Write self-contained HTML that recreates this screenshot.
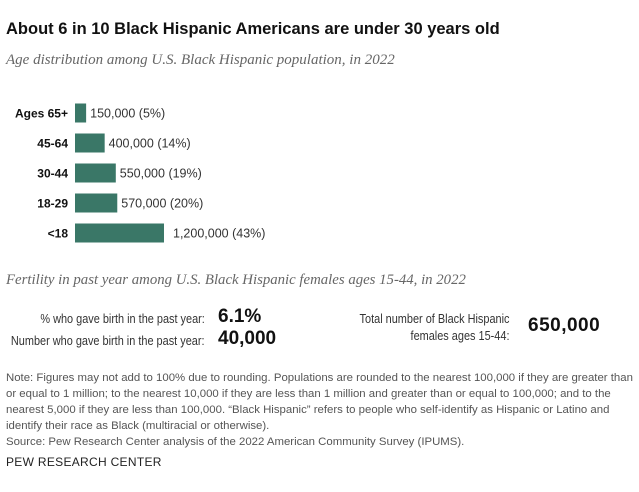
<!DOCTYPE html>
<html><head><meta charset="utf-8"><style>
body{margin:0;width:639px;height:492px;background:#fff;font-family:"Liberation Sans",sans-serif;color:#222;position:relative;overflow:hidden}
.a{position:absolute;white-space:nowrap}
.it{font-family:"Liberation Serif",serif;font-style:italic;color:#666;font-size:15px}
.cond{transform:scaleX(0.84);transform-origin:right center}
</style></head><body>
<div class="a" style="left:6px;top:20px;font-size:16.5px;font-weight:bold;color:#111">About 6 in 10 Black Hispanic Americans are under 30 years old</div>
<div class="a it" style="left:6px;top:52px">Age distribution among U.S. Black Hispanic population, in 2022</div>
<svg class="a" style="left:0;top:95px" width="639" height="160" id="chart"></svg>
<div class="a it" style="left:6px;top:272px;font-size:14.8px">Fertility in past year among U.S. Black Hispanic females ages 15-44, in 2022</div>
<div class="a cond" style="right:434px;top:311px;font-size:13px;color:#333">% who gave birth in the past year:</div>
<div class="a" style="left:218px;top:306px;font-size:19px;font-weight:bold;color:#111">6.1%</div>
<div class="a cond" style="right:434px;top:333px;font-size:13px;color:#333">Number who gave birth in the past year:</div>
<div class="a" style="left:218px;top:328px;font-size:19px;font-weight:bold;color:#111">40,000</div>
<div class="a cond" style="right:130px;top:310px;font-size:13px;color:#333;text-align:right;line-height:17px">Total number of Black Hispanic<br>females ages 15-44:</div>
<div class="a" style="left:528px;top:315px;font-size:19px;font-weight:bold;color:#111;letter-spacing:0.5px">650,000</div>
<div class="a" style="left:6px;top:370px;width:630px;white-space:normal;font-size:11.4px;line-height:16px;color:#555">Note: Figures may not add to 100% due to rounding. Populations are rounded to the nearest 100,000 if they are greater than or equal to 1 million; to the nearest 10,000 if they are less than 1 million and greater than or equal to 100,000; and to the nearest 5,000 if they are less than 100,000. “Black Hispanic” refers to people who self-identify as Hispanic or Latino and identify their race as Black (multiracial or otherwise).<br>Source: Pew Research Center analysis of the 2022 American Community Survey (IPUMS).</div>
<div class="a" style="left:6px;top:455px;font-size:12px;color:#222;letter-spacing:0.3px">PEW RESEARCH CENTER</div>
<script>
const categories=["Ages 65+","45-64","30-44","18-29","<18"];
const values=[150000,400000,550000,570000,1200000];
const labels=["150,000","400,000","550,000","570,000","1,200,000"];
const pcts=["(5%)","(14%)","(19%)","(20%)","(43%)"];
const svg=document.getElementById('chart');
const NS='http://www.w3.org/2000/svg';
const x0=75,sc=89/1200000;
const y=i=>18+i*30;
categories.forEach((c,i)=>{
 const r=document.createElementNS(NS,'rect');
 r.setAttribute('x',x0);r.setAttribute('y',y(i)-9.5);r.setAttribute('width',values[i]*sc);r.setAttribute('height',19);r.setAttribute('fill','#3a7767');
 
 
 svg.appendChild(r);
 const t=document.createElementNS(NS,'text');
 t.setAttribute('x',68);t.setAttribute('y',y(i)+4.5);t.setAttribute('text-anchor','end');t.setAttribute('font-size','12');t.setAttribute('font-weight','bold');t.setAttribute('fill','#111');
 t.textContent=c;
 
 
 svg.appendChild(t);
 const v=document.createElementNS(NS,'text');
 v.setAttribute('x',x0+values[i]*sc+(i==4?9:4));v.setAttribute('y',y(i)+4.5);v.setAttribute('font-size','12.5');v.setAttribute('fill','#333');
 v.textContent=labels[i]+'  '+pcts[i];
 v.setAttribute('xml:space','preserve');
 
 
 svg.appendChild(v);
});
</script>
</body></html>
